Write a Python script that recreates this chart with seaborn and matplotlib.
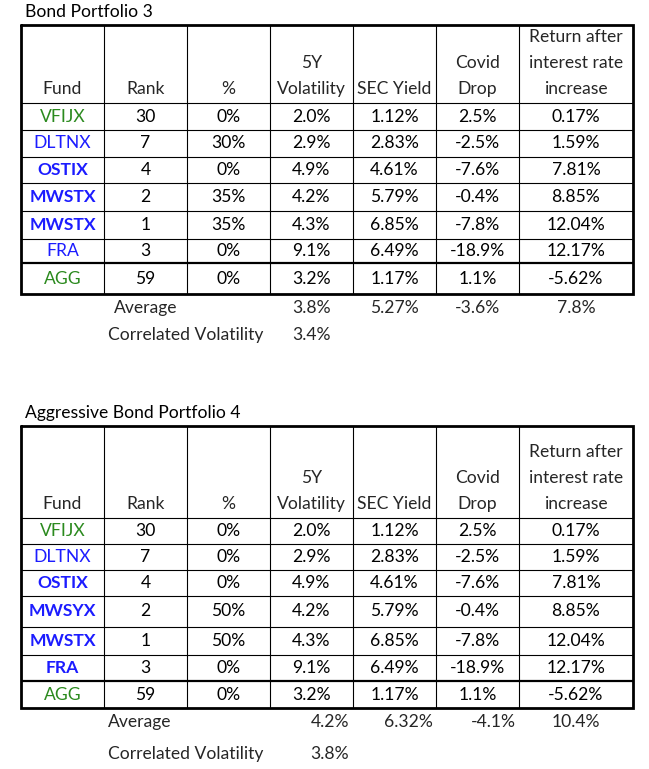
import matplotlib
matplotlib.use("Agg")
import matplotlib.pyplot as plt
import seaborn as sns

sns.set_theme(style="white")
plt.rcParams['font.family'] = ['Lato', 'DejaVu Sans']

# Data
headers = [["Fund"], ["Rank"], ["%"], ["5Y", "Volatility"], ["SEC Yield"],
           ["Covid", "Drop"], ["Return after", "interest rate", "increase"]]
funds_3 = ["VFIJX", "DLTNX", "OSTIX", "MWSTX", "MWSTX", "FRA", "AGG"]
funds_4 = ["VFIJX", "DLTNX", "OSTIX", "MWSYX", "MWSTX", "FRA", "AGG"]
ranks = ["30", "7", "4", "2", "1", "3", "59"]
pct_3 = ["0%", "30%", "0%", "35%", "35%", "0%", "0%"]
pct_4 = ["0%", "0%", "0%", "50%", "50%", "0%", "0%"]
volatility = ["2.0%", "2.9%", "4.9%", "4.2%", "4.3%", "9.1%", "3.2%"]
sec_yield = ["1.12%", "2.83%", "4.61%", "5.79%", "6.85%", "6.49%", "1.17%"]
covid_drop = ["2.5%", "-2.5%", "-7.6%", "-0.4%", "-7.8%", "-18.9%", "1.1%"]
rate_return = ["0.17%", "1.59%", "7.81%", "8.85%", "12.04%", "12.17%", "-5.62%"]
avg_3 = ["3.8%", "5.27%", "-3.6%", "7.8%"]
avg_4 = ["4.2%", "6.32%", "-4.1%", "10.4%"]
corr_vol_3 = "3.4%"
corr_vol_4 = "3.8%"

GREEN = "#2b8a1e"
BLUE = "#1c1cff"
fund_style_3 = [(GREEN, "normal"), (BLUE, "normal"), (BLUE, "bold"), (BLUE, "bold"),
                (BLUE, "bold"), (BLUE, "normal"), (GREEN, "normal")]
fund_style_4 = [(GREEN, "normal"), (BLUE, "normal"), (BLUE, "bold"), (BLUE, "bold"),
                (BLUE, "bold"), (BLUE, "bold"), (GREEN, "normal")]

# Layout (pixels)
W, H = 649, 769
left = 21
col_w = [83, 83, 83, 83, 83, 83, 114]
edges = [left]
for w in col_w:
    edges.append(edges[-1] + w)
centers = [(edges[i] + edges[i + 1]) / 2 for i in range(len(col_w))]
FS = 12.6
LINE = 26

fig = plt.figure(figsize=(W / 100, H / 100), dpi=100)
ax = fig.add_axes([0, 0, 1, 1])
ax.set_xlim(0, W)
ax.set_ylim(H, 0)
ax.axis('off')


def draw_table(title, title_y, top, head_h, row_h, funds, styles, pct,
               avg, avg_label_x, avg_label_ha, avg_x, avg_y, corr, corr_y):
    ax.text(25, title_y, title, fontsize=FS, ha='left', va='center', color='black')
    # row boundaries
    ys = [top, top + head_h]
    for h in row_h:
        ys.append(ys[-1] + h)
    bottom = ys[-1]
    # inner grid
    for y in ys[1:-1]:
        lw = 1.6 if y == ys[-2] else 0.8
        ax.hlines(y, edges[0], edges[-1], color='black', lw=lw)
    for x in edges[1:-1]:
        ax.vlines(x, top, bottom, color='black', lw=0.8)
    # outer border
    ax.plot([edges[0], edges[-1], edges[-1], edges[0], edges[0]],
            [top, top, bottom, bottom, top], color='black', lw=2.0,
            solid_joinstyle='miter')
    # headers, bottom aligned
    for c, lines in enumerate(headers):
        n = len(lines)
        for k, s in enumerate(lines):
            y = top + head_h - 14 - (n - 1 - k) * LINE
            ax.text(centers[c], y, s, fontsize=FS, ha='center', va='center')
    # body
    cols = [funds, ranks, pct, volatility, sec_yield, covid_drop, rate_return]
    for r in range(len(funds)):
        ymid = (ys[r + 1] + ys[r + 2]) / 2
        for c, col in enumerate(cols):
            if c == 0:
                color, weight = styles[r]
            else:
                color, weight = 'black', 'normal'
            ax.text(centers[c], ymid, col[r], fontsize=FS, ha='center',
                    va='center', color=color, fontweight=weight)
    # summary
    ax.text(avg_label_x, avg_y, "Average", fontsize=FS, ha=avg_label_ha, va='center')
    for x, v in zip(avg_x, avg):
        ax.text(x, avg_y, v, fontsize=FS, ha='center', va='center')
    ax.text(108, corr_y, "Correlated Volatility", fontsize=FS, ha='left', va='center')
    ax.text(avg_x[0], corr_y, corr, fontsize=FS, ha='center', va='center')


draw_table("Bond Portfolio 3", 12, 25, 78, [27, 27, 26, 28, 28, 24, 31],
           funds_3, fund_style_3, pct_3, avg_3, centers[1], 'center',
           centers[3:], 308, corr_vol_3, 335)
draw_table("Aggressive Bond Portfolio 4", 413, 426, 92, [26, 26, 26, 31, 28, 26, 27],
           funds_4, fund_style_4, pct_4, avg_4, 108, 'left',
           [330, 408, 493, 576], 722, corr_vol_4, 754)

fig.savefig("out.png", dpi=100)
